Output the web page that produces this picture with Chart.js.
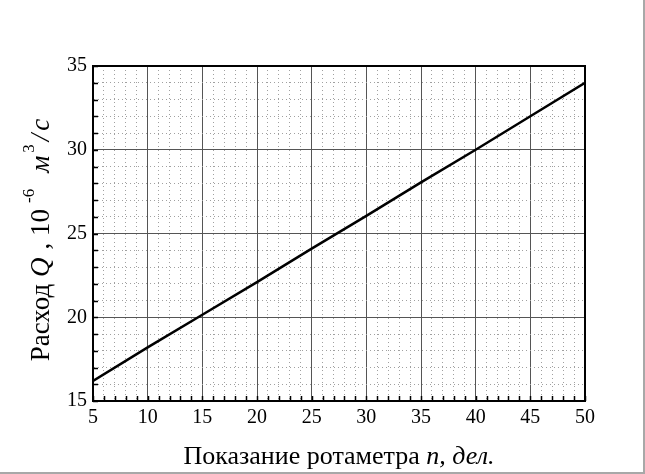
<!DOCTYPE html>
<html>
<head>
<meta charset="utf-8">
<script src="https://cdn.jsdelivr.net/npm/chart.js@4.4.1/dist/chart.umd.min.js"></script>
<style>
  html, body { margin: 0; padding: 0; background: #fff; }
  #wrap { width: 645px; height: 474px; box-sizing: border-box;
          border-right: 2px solid #a8a8a8; border-bottom: 2px solid #a8a8a8; }
  canvas { display: block; }
</style>
</head>
<body>
<div id="wrap"><canvas id="myChart" width="643" height="472"></canvas></div>
<script>
// readings of the rotameter (divisions) and flow rate Q, 10^-6 m3/s
const n = [5, 10, 15, 20, 25, 30, 35, 40, 45, 50];
const Q = [16.2, 18.2, 20.15, 22.1, 24.1, 26.05, 28.05, 30.0, 32.0, 34.0];
const xTicks = [5, 10, 15, 20, 25, 30, 35, 40, 45, 50];
const yTicks = [15, 20, 25, 30, 35];

const serif = "'Liberation Serif', 'DejaVu Serif', serif";

// title pieces: i = italic, sup = superscript, g = extra gap after (px)
const xTitle = [
  { t: 'Показание ротаметра ' },
  { t: 'n, дел.', i: true }
];
const yTitle = [
  { t: 'Расход ' },
  { t: 'Q', i: true, g: 8 },
  { t: ', 10', g: 6 },
  { t: '-6', sup: true, g: 16 },
  { t: 'м', i: true, g: 3 },
  { t: '3', sup: true, g: 3 },
  { t: '/', i: true, g: 3 },
  { t: 'с', i: true }
];

function fontOf(seg, size) {
  var s = seg.sup ? Math.round(size * 0.62) : size;
  return (seg.i ? 'italic ' : '') + s + 'px ' + serif;
}

function drawRich(ctx, segs, size) {
  var total = 0;
  segs.forEach(function (s) { ctx.font = fontOf(s, size); total += ctx.measureText(s.t).width + (s.g || 0); });
  var x = -total / 2;
  segs.forEach(function (s) {
    ctx.font = fontOf(s, size);
    ctx.fillText(s.t, x, s.sup ? -size * 0.45 : 0);
    x += ctx.measureText(s.t).width + (s.g || 0);
  });
}

const extras = {
  id: 'extras',
  afterDraw: function (chart) {
    var ctx = chart.ctx, a = chart.chartArea;
    var xs = chart.scales.x, ys = chart.scales.y;
    ctx.save();
    // inward tick marks
    ctx.strokeStyle = '#000';
    ctx.lineWidth = 1.5;
    ctx.beginPath();
    xs.ticks.forEach(function (t) {
      var px = Math.round(xs.getPixelForValue(t.value)) + 0.5;
      ctx.moveTo(px, a.bottom);
      ctx.lineTo(px, a.bottom - 5);
    });
    ys.ticks.forEach(function (t) {
      var py = Math.round(ys.getPixelForValue(t.value)) + 0.5;
      ctx.moveTo(a.left, py);
      ctx.lineTo(a.left + 5, py);
    });
    ctx.stroke();
    // frame
    ctx.lineWidth = 2;
    ctx.strokeRect(a.left, a.top, a.right - a.left, a.bottom - a.top);
    // titles
    ctx.fillStyle = '#000';
    ctx.textBaseline = 'middle';
    ctx.textAlign = 'left';
    ctx.save();
    ctx.translate((a.left + a.right) / 2, 457);
    drawRich(ctx, xTitle, 26);
    ctx.restore();
    ctx.save();
    ctx.translate(42, 240);
    ctx.rotate(-Math.PI / 2);
    drawRich(ctx, yTitle, 27);
    ctx.restore();
    ctx.restore();
  }
};

function isMajor(v, list) { return list.indexOf(v) >= 0; }

const ctx = document.getElementById('myChart').getContext('2d');
const myChart = new Chart(ctx, {
  type: 'line',
  data: {
    datasets: [{
      data: n.map(function (v, i) { return { x: v, y: Q[i] }; }),
      borderColor: '#000',
      borderWidth: 2.5,
      pointRadius: 0,
      fill: false,
      tension: 0
    }]
  },
  options: {
    responsive: false,
    animation: false,
    devicePixelRatio: 1,
    layout: { padding: { top: 66, right: 58, left: 0, bottom: 0 } },
    plugins: { legend: { display: false }, tooltip: { enabled: false } },
    scales: {
      x: {
        type: 'linear',
        min: 5, max: 50,
        afterFit: function (s) { s.height = 71; },
        ticks: {
          stepSize: 1, autoSkip: false, maxRotation: 0, padding: 5,
          color: '#000', font: { family: serif, size: 20 },
          callback: function (v) { return isMajor(v, xTicks) ? String(v) : ''; }
        },
        grid: {
          drawTicks: false,
          color: function (c) { return c.tick && isMajor(c.tick.value, xTicks) ? '#555' : '#a0a0a0'; },
          lineWidth: 1
        },
        border: {
          color: '#000', width: 2,
          dash: function (c) { return c.tick && isMajor(c.tick.value, xTicks) ? [] : [1, 3]; }
        }
      },
      y: {
        type: 'linear',
        min: 15, max: 35,
        afterFit: function (s) { s.width = 93; },
        ticks: {
          stepSize: 1, autoSkip: false, padding: 6,
          color: '#000', font: { family: serif, size: 20 },
          callback: function (v) { return isMajor(v, yTicks) ? String(v) : ''; }
        },
        grid: {
          drawTicks: false,
          color: function (c) { return c.tick && isMajor(c.tick.value, yTicks) ? '#555' : '#a0a0a0'; },
          lineWidth: 1
        },
        border: {
          color: '#000', width: 2,
          dash: function (c) { return c.tick && isMajor(c.tick.value, yTicks) ? [] : [1, 3]; }
        }
      }
    }
  },
  plugins: [extras]
});
</script>
</body>
</html>
